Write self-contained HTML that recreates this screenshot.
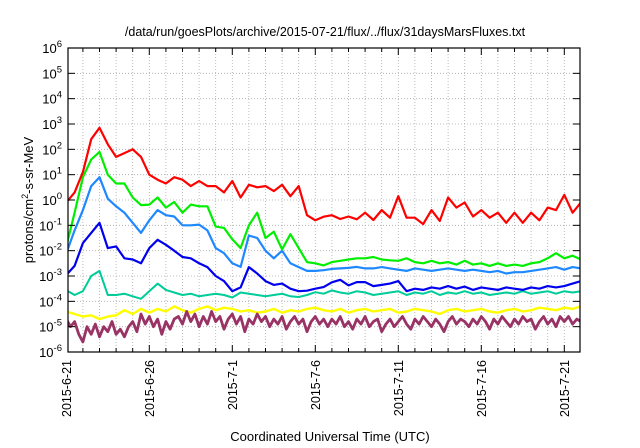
<!DOCTYPE html>
<html><head><meta charset="utf-8"><style>
html,body{margin:0;padding:0;background:#fff;}
svg{display:block;font-family:"Liberation Sans",sans-serif;}
</style></head><body>
<svg id="chart" width="640" height="448" viewBox="0 0 640 448" xmlns="http://www.w3.org/2000/svg">
<rect width="640" height="448" fill="#fff"/>
<text x="325" y="36" font-size="12.5" text-anchor="middle" fill="#000">/data/run/goesPlots/archive/2015-07-21/flux/../flux/31daysMarsFluxes.txt</text>
<g id="grid"></g>
<g id="series"></g>
<g id="axes"></g>
<text transform="translate(33,200) rotate(-90)" font-size="13" text-anchor="middle">protons/cm<tspan dy="-5" font-size="9">2</tspan><tspan dy="5">-s-sr-MeV</tspan></text>
<text x="330" y="441" font-size="13" text-anchor="middle">Coordinated Universal Time (UTC)</text>
</svg>
<script>
const dayStep = 0.5;
const purpleStep = 0.25;
const xTickLabels = ["2015-6-21","2015-6-26","2015-7-1","2015-7-6","2015-7-11","2015-7-16","2015-7-21"];
const xTickDays = [0,5,10,15,20,25,30];
const yExponents = [-6,-5,-4,-3,-2,-1,0,1,2,3,4,5,6];
const redLog = [-0.1,0.3,1.1,2.4,2.85,2.2,1.7,1.85,2.0,1.7,1.0,0.8,0.65,0.9,0.8,0.55,0.75,0.55,0.55,0.3,0.75,0.1,0.6,0.5,0.55,0.35,0.6,0.15,0.55,-0.6,-0.8,-0.66,-0.6,-0.75,-0.65,-0.76,-0.5,-0.79,-0.4,-0.7,0.15,-0.7,-0.7,-0.95,-0.4,-0.83,0.1,-0.3,-0.1,-0.65,-0.4,-0.7,-0.5,-0.9,-0.5,-0.9,-0.5,-0.8,-0.3,-0.4,0.2,-0.5,-0.1];
const greenLog = [-1.83,-0.5,0.9,1.6,1.9,1.0,0.65,0.65,0.1,-0.2,-0.18,0.1,-0.3,-0.08,-0.5,-0.18,-0.25,-0.25,-1.05,-1.1,-1.55,-1.9,-1.0,-0.5,-1.5,-1.25,-1.95,-1.35,-1.9,-2.45,-2.5,-2.58,-2.45,-2.4,-2.35,-2.3,-2.3,-2.25,-2.35,-2.38,-2.4,-2.3,-2.45,-2.5,-2.4,-2.5,-2.45,-2.55,-2.4,-2.55,-2.5,-2.6,-2.5,-2.6,-2.55,-2.6,-2.5,-2.45,-2.3,-2.1,-2.3,-2.2,-2.35];
const lightBlueLog = [-2.1,-1.2,-0.4,0.55,0.9,0.05,-0.25,-0.5,-0.9,-1.3,-0.8,-0.4,-0.6,-0.65,-1.0,-1.0,-0.97,-1.2,-1.9,-2.1,-2.5,-2.64,-1.4,-1.5,-2.0,-2.3,-2.0,-2.5,-2.65,-2.8,-2.8,-2.77,-2.72,-2.7,-2.68,-2.64,-2.7,-2.7,-2.65,-2.7,-2.75,-2.8,-2.7,-2.75,-2.8,-2.75,-2.7,-2.75,-2.8,-2.75,-2.8,-2.85,-2.8,-2.9,-2.85,-2.85,-2.8,-2.75,-2.7,-2.65,-2.75,-2.65,-2.7];
const blueLog = [-2.96,-2.6,-1.7,-1.3,-0.9,-1.9,-1.83,-2.3,-2.35,-2.5,-1.9,-1.57,-1.77,-2.0,-2.25,-2.3,-2.5,-2.65,-3.0,-3.2,-3.6,-3.45,-2.65,-2.9,-3.2,-3.35,-3.3,-3.5,-3.6,-3.58,-3.5,-3.44,-3.25,-3.15,-3.37,-3.24,-3.24,-3.4,-3.35,-3.3,-3.2,-3.6,-3.5,-3.55,-3.45,-3.5,-3.4,-3.5,-3.42,-3.55,-3.45,-3.5,-3.55,-3.45,-3.5,-3.55,-3.45,-3.5,-3.4,-3.45,-3.4,-3.3,-3.2];
const tealLog = [-3.56,-3.75,-3.6,-3.0,-2.8,-3.75,-3.75,-3.7,-3.8,-3.9,-3.6,-3.3,-3.55,-3.65,-3.75,-3.7,-3.8,-3.75,-3.7,-3.75,-3.85,-3.65,-3.7,-3.75,-3.8,-3.75,-3.7,-3.8,-3.83,-3.75,-3.64,-3.7,-3.57,-3.65,-3.7,-3.6,-3.65,-3.75,-3.7,-3.65,-3.6,-3.75,-3.65,-3.7,-3.6,-3.75,-3.65,-3.7,-3.6,-3.7,-3.65,-3.75,-3.7,-3.65,-3.7,-3.6,-3.7,-3.65,-3.6,-3.7,-3.6,-3.65,-3.6];
const yellowLog = [-4.4,-4.5,-4.6,-4.55,-4.7,-4.6,-4.55,-4.35,-4.5,-4.3,-4.45,-4.3,-4.4,-4.2,-4.35,-4.45,-4.3,-4.2,-4.35,-4.25,-4.3,-4.4,-4.35,-4.45,-4.4,-4.3,-4.45,-4.35,-4.4,-4.3,-4.25,-4.35,-4.4,-4.3,-4.45,-4.35,-4.3,-4.4,-4.35,-4.3,-4.45,-4.4,-4.3,-4.35,-4.4,-4.5,-4.35,-4.3,-4.4,-4.35,-4.3,-4.4,-4.45,-4.35,-4.3,-4.4,-4.35,-4.25,-4.3,-4.35,-4.25,-4.3,-4.2];
const purpleLog = [-4.7,-5.0,-4.8,-5.3,-5.6,-5.0,-5.3,-4.9,
-5.4,-5.0,-5.2,-4.8,-5.3,-5.1,-5.4,-5.0,
-4.8,-5.2,-4.5,-4.9,-4.6,-5.0,-4.7,-5.3,
-4.8,-5.1,-4.7,-4.6,-4.9,-4.4,-4.8,-4.5,
-5.0,-4.6,-4.9,-4.4,-4.8,-4.6,-5.1,-4.7,
-4.5,-4.9,-4.6,-5.2,-4.7,-4.9,-4.5,-4.8,
-4.6,-5.0,-4.7,-4.9,-4.6,-5.1,-4.8,-4.6,
-4.9,-4.7,-5.2,-4.8,-4.6,-4.9,-4.7,-5.0,
-4.7,-4.9,-4.6,-5.0,-4.8,-5.1,-4.7,-4.9,
-4.6,-5.0,-4.8,-4.7,-5.2,-4.9,-4.7,-5.0,
-4.8,-4.6,-4.9,-5.1,-4.7,-4.9,-4.6,-4.8,
-5.0,-4.7,-4.9,-5.2,-4.8,-4.6,-4.9,-4.7,
-4.8,-5.0,-4.7,-4.9,-4.6,-4.8,-5.1,-4.7,
-4.9,-4.6,-4.8,-5.0,-4.7,-4.9,-4.6,-4.8,
-4.7,-5.1,-4.8,-4.6,-4.9,-4.7,-5.0,-4.6,
-4.8,-4.6,-4.9,-4.7,-4.8];

const NS = "http://www.w3.org/2000/svg";
const L = 68, R = 580, T = 48, B = 352;
const xDay0 = 66.3, pxPerDay = 16.6;
function xScale(d){ return xDay0 + d*pxPerDay; }
function yScale(lg){ return T + (6 - lg) * (B - T) / 12; }
function mk(tag, attrs, parent){ const e=document.createElementNS(NS,tag); for(const k in attrs) e.setAttribute(k,attrs[k]); parent.appendChild(e); return e; }

const grid = document.getElementById('grid');
const axes = document.getElementById('axes');
const series = document.getElementById('series');
const svg = document.getElementById('chart');

const defs = mk('defs',{},svg);
const cp = mk('clipPath',{id:'plotclip'},defs);
mk('rect',{x:L,y:T,width:R-L,height:B-T},cp);
series.setAttribute('clip-path','url(#plotclip)');

for(let d=0; d<=31; d++){
  const x = xScale(d);
  if(x < L-0.5 || x > R) continue;
  const g = mk('line',{x1:x,x2:x,y1:T,y2:B,stroke:'#aaa','stroke-width':0.8,'stroke-dasharray':'1,2'},grid);
  
  
  const major = xTickDays.indexOf(d) >= 0;
  const len = major ? 7 : 4;
  const t1 = mk('line',{x1:x,x2:x,y1:B,y2:B-len,stroke:'#000','stroke-width':1},axes);
  
  
  const t2 = mk('line',{x1:x,x2:x,y1:T,y2:T+len,stroke:'#000','stroke-width':1},axes);
  
  
}
xTickDays.forEach((d,i)=>{
  const x = xScale(d);
  const t = mk('text',{transform:`translate(${x+4.5},360) rotate(-90)`,'font-size':12.5,'text-anchor':'end'},axes);
  t.textContent = xTickLabels[i];
  
  
});

yExponents.forEach(e=>{
  const y = yScale(e);
  if(e>-6 && e<6){
    const g = mk('line',{x1:L,x2:R,y1:y,y2:y,stroke:'#aaa','stroke-width':0.8,'stroke-dasharray':'1,2'},grid);
    
    
  }
  const t1 = mk('line',{x1:L,x2:L+7,y1:y,y2:y,stroke:'#000','stroke-width':1},axes);
  
  
  const t2 = mk('line',{x1:R,x2:R-7,y1:y,y2:y,stroke:'#000','stroke-width':1},axes);
  
  
  const lab = mk('text',{x:62,y:y+5,'font-size':13,'text-anchor':'end'},axes);
  
  
  const base = document.createElementNS(NS,'tspan'); base.textContent='10'; lab.appendChild(base);
  const sup = document.createElementNS(NS,'tspan'); sup.setAttribute('dy','-6'); sup.setAttribute('font-size','9.5'); sup.textContent=String(e); lab.appendChild(sup);
});

const frame = mk('rect',{x:L,y:T,width:R-L,height:B-T,fill:'none',stroke:'#000','stroke-width':1.2},axes);



function drawSeries(vals, step, color, width, name){
  const pts = vals.map((v,i)=>xScale(i*step).toFixed(1)+','+yScale(v).toFixed(1)).join(' ');
  const p = mk('polyline',{points:pts,fill:'none',stroke:color,'stroke-width':width,'stroke-linejoin':'round'},series);
  
  
}
drawSeries(yellowLog, dayStep, '#ffff00', 2.4, 'series-yellow');
drawSeries(purpleLog, purpleStep, '#993366', 2.8, 'series-purple');
drawSeries(tealLog, dayStep, '#00cc99', 2, 'series-teal');
drawSeries(blueLog, dayStep, '#0000ee', 2.2, 'series-blue');
drawSeries(lightBlueLog, dayStep, '#1e88ff', 2.2, 'series-light-blue');
drawSeries(greenLog, dayStep, '#00ee00', 2.2, 'series-green');
drawSeries(redLog, dayStep, '#ff0000', 2.2, 'series-red');
</script>
</body></html>
